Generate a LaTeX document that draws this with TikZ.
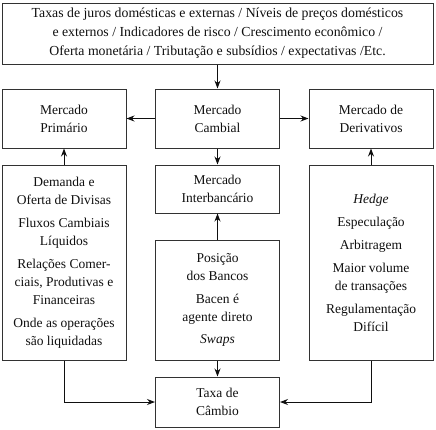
\documentclass[tikz,border=0pt]{standalone}
\usepackage{fontspec}
\setmainfont{Liberation Serif}
\usetikzlibrary{arrows.meta, positioning, calc}
\definecolor{boxline}{RGB}{50,50,50}
\definecolor{txt}{RGB}{15,15,15}
\begin{document}
\begin{tikzpicture}[x=1pt, y=-1pt,
  box/.style={draw=boxline, line width=1pt, minimum width=124pt, align=center, text=txt, font=\fontsize{13.5}{18}\selectfont, inner sep=2pt},
  arr/.style={-{Stealth[length=8pt, width=6pt]}, line width=1pt, draw=txt}
]
  \useasboundingbox (0,0) rectangle (436,429);

  % ── Determinantes (topo) ──
  \node[box, minimum width=431pt, minimum height=61pt, font=\fontsize{13.8}{19}\selectfont] (det) at (217.5,33.5)
    {Taxas de juros domésticas e externas / Níveis de preços domésticos\\
     e externos / Indicadores de risco / Crescimento econômico /\\
     Oferta monetária / Tributação e subsídios / expectativas /Etc.};

  % ── Mercados ──
  \node[box, minimum height=59pt] (prim) at (64,118.5) {Mercado\\Primário};
  \node[box, minimum height=59pt] (camb) at (217.5,118.5) {Mercado\\Cambial};
  \node[box, minimum height=59pt] (deriv) at (371,118.5) {Mercado de\\Derivativos};

  % ── Caracteristicas ──
  \node[box, minimum height=195pt] (divisas) at (64,262.5)
    {Demanda e\\Oferta de Divisas\\[5pt]
     Fluxos Cambiais\\Líquidos\\[5pt]
     Relações Comer-\\ciais, Produtivas e\\Financeiras\\[5pt]
     Onde as operações\\são liquidadas};
  \node[box, minimum height=48pt] (inter) at (217.5,189) {Mercado\\Interbancário};
  \node[box, minimum height=120pt] (bancos) at (217.5,300)
    {Posição\\dos Bancos\\[5pt]
     Bacen é\\agente direto\\[4pt]
     \textit{Swaps}};
  \node[box, minimum height=195pt] (hedge) at (371,262.5)
    {\textit{Hedge}\\[5pt]
     Especulação\\[5pt]
     Arbitragem\\[5pt]
     Maior volume\\de transações\\[5pt]
     Regulamentação\\Difícil};

  % ── Resultado ──
  \node[box, minimum height=50pt] (taxa) at (217.5,402) {Taxa de\\Câmbio};

  % ── Ligações ──
  \draw[arr] (det) -- (camb);
  \draw[arr] (camb) -- (prim);
  \draw[arr] (camb) -- (deriv);
  \draw[arr] (camb) -- (inter);
  \draw[arr] (bancos) -- (inter);
  \draw[arr] (divisas) -- (prim);
  \draw[arr] (hedge) -- (deriv);
  \draw[arr] (bancos) -- (taxa);
  \draw[arr] (divisas.south) |- (taxa.west);
  \draw[arr] (hedge.south) |- (taxa.east);
\end{tikzpicture}
\end{document}
